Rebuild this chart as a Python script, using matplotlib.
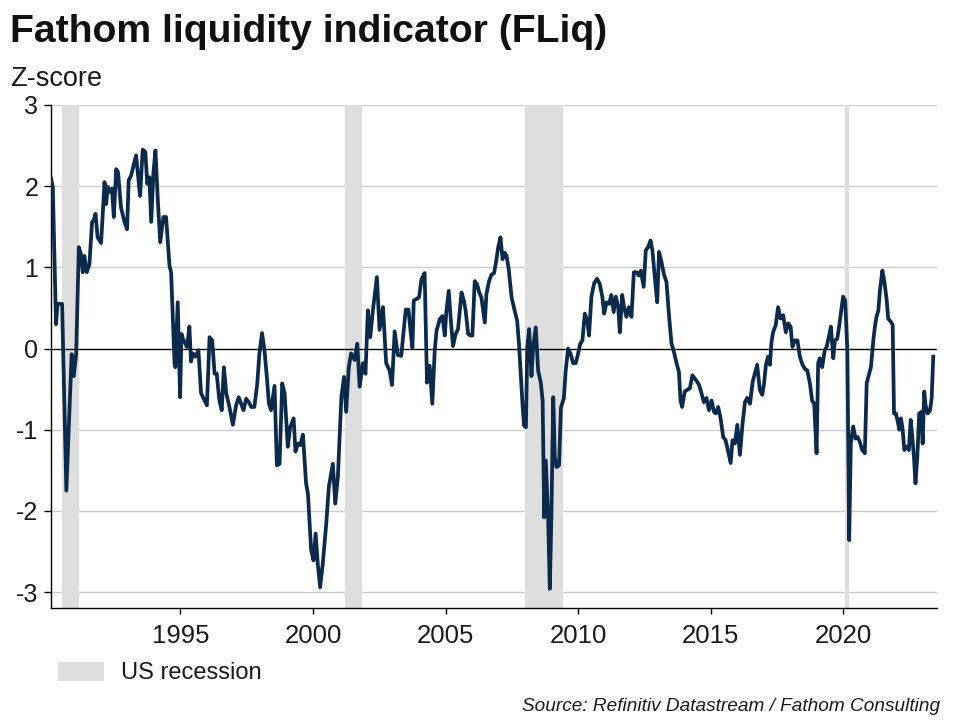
import matplotlib
matplotlib.use("Agg")
import matplotlib.pyplot as plt
from matplotlib.patches import Patch

# ---- data ----
years = [
    1990.12, 1990.19, 1990.31, 1990.37, 1990.54, 1990.70, 1990.90, 1990.98, 1991.07, 1991.17,
    1991.25, 1991.32, 1991.38, 1991.47, 1991.57, 1991.67, 1991.73, 1991.80, 1991.88, 1992.01,
    1992.14, 1992.20, 1992.26, 1992.35, 1992.42, 1992.49, 1992.58, 1992.65, 1992.76, 1992.89,
    1992.99, 1993.05, 1993.14, 1993.33, 1993.48, 1993.58, 1993.68, 1993.75, 1993.83, 1993.90,
    1993.98, 1994.06, 1994.15, 1994.24, 1994.36, 1994.46, 1994.59, 1994.65, 1994.78, 1994.81,
    1994.90, 1994.99, 1995.04, 1995.12, 1995.19, 1995.25, 1995.34, 1995.40, 1995.47, 1995.57,
    1995.68, 1995.78, 1995.91, 1996.00, 1996.10, 1996.20, 1996.29, 1996.37, 1996.47, 1996.56,
    1996.64, 1996.73, 1996.85, 1996.98, 1997.10, 1997.20, 1997.29, 1997.38, 1997.48, 1997.58,
    1997.67, 1997.79, 1997.90, 1997.98, 1998.08, 1998.17, 1998.26, 1998.34, 1998.42, 1998.55,
    1998.64, 1998.74, 1998.84, 1998.93, 1999.05, 1999.14, 1999.27, 1999.34, 1999.43, 1999.52,
    1999.62, 1999.74, 1999.81, 1999.93, 2000.02, 2000.10, 2000.18, 2000.27, 2000.37, 2000.50,
    2000.60, 2000.75, 2000.84, 2000.94, 2001.07, 2001.17, 2001.25, 2001.35, 2001.44, 2001.57,
    2001.67, 2001.76, 2001.88, 2001.98, 2002.07, 2002.16, 2002.26, 2002.41, 2002.51, 2002.64,
    2002.76, 2002.89, 2002.98, 2003.08, 2003.20, 2003.33, 2003.42, 2003.50, 2003.60, 2003.69,
    2003.75, 2003.80, 2003.90, 2004.00, 2004.09, 2004.21, 2004.30, 2004.40, 2004.50, 2004.59,
    2004.66, 2004.78, 2004.88, 2004.97, 2005.03, 2005.12, 2005.20, 2005.28, 2005.38, 2005.47,
    2005.56, 2005.60, 2005.69, 2005.76, 2005.85, 2005.94, 2006.01, 2006.10, 2006.19, 2006.27,
    2006.35, 2006.48, 2006.54, 2006.64, 2006.73, 2006.83, 2006.92, 2006.98, 2007.07, 2007.15,
    2007.23, 2007.30, 2007.38, 2007.49, 2007.61, 2007.70, 2007.77, 2007.82, 2007.90, 2007.96,
    2008.03, 2008.08, 2008.15, 2008.24, 2008.30, 2008.40, 2008.49, 2008.59, 2008.66, 2008.72,
    2008.78, 2008.87, 2008.93, 2008.99, 2009.06, 2009.12, 2009.18, 2009.28, 2009.35, 2009.46,
    2009.53, 2009.62, 2009.71, 2009.81, 2009.91, 2010.00, 2010.08, 2010.16, 2010.25, 2010.34,
    2010.41, 2010.50, 2010.60, 2010.71, 2010.81, 2010.91, 2010.98, 2011.07, 2011.17, 2011.25,
    2011.34, 2011.42, 2011.51, 2011.57, 2011.66, 2011.73, 2011.82, 2011.91, 2012.01, 2012.10,
    2012.20, 2012.29, 2012.36, 2012.47, 2012.55, 2012.64, 2012.73, 2012.80, 2012.89, 2012.98,
    2013.05, 2013.14, 2013.23, 2013.33, 2013.43, 2013.52, 2013.61, 2013.71, 2013.80, 2013.86,
    2013.92, 2014.02, 2014.11, 2014.21, 2014.31, 2014.40, 2014.49, 2014.56, 2014.65, 2014.74,
    2014.84, 2014.93, 2015.03, 2015.12, 2015.19, 2015.28, 2015.37, 2015.47, 2015.56, 2015.63,
    2015.75, 2015.82, 2015.91, 2016.00, 2016.10, 2016.20, 2016.29, 2016.37, 2016.48, 2016.58,
    2016.66, 2016.75, 2016.85, 2016.94, 2017.01, 2017.08, 2017.16, 2017.23, 2017.29, 2017.35,
    2017.45, 2017.54, 2017.63, 2017.73, 2017.83, 2017.92, 2018.01, 2018.08, 2018.17, 2018.27,
    2018.36, 2018.46, 2018.55, 2018.64, 2018.74, 2018.82, 2018.90, 2018.99, 2019.05, 2019.11,
    2019.20, 2019.30, 2019.37, 2019.45, 2019.53, 2019.62, 2019.68, 2019.77, 2019.84, 2019.93,
    2019.99, 2020.07, 2020.15, 2020.20, 2020.22, 2020.28, 2020.37, 2020.46, 2020.54, 2020.62,
    2020.71, 2020.81, 2020.88, 2020.94, 2021.04, 2021.13, 2021.19, 2021.25, 2021.32, 2021.38,
    2021.47, 2021.54, 2021.63, 2021.69, 2021.79, 2021.86, 2021.91, 2021.98, 2022.04, 2022.11,
    2022.17, 2022.23, 2022.30, 2022.38, 2022.47, 2022.54, 2022.60, 2022.66, 2022.72, 2022.79,
    2022.86, 2022.94, 2022.99, 2023.05, 2023.10, 2023.18, 2023.27, 2023.33, 2023.39,
]
fliq = [
    2.10, 1.99, 0.30, 0.55, 0.55, -1.75, -0.07, -0.34, -0.07, 1.25,
    1.16, 0.94, 1.14, 0.94, 1.04, 1.56, 1.58, 1.66, 1.37, 1.30,
    2.05, 1.78, 1.99, 1.93, 1.97, 1.62, 2.21, 2.17, 1.74, 1.56,
    1.47, 2.07, 2.13, 2.38, 1.88, 2.45, 2.42, 2.03, 2.11, 1.56,
    2.15, 2.44, 1.82, 1.31, 1.62, 1.62, 1.02, 0.94, -0.18, -0.23,
    0.57, -0.60, 0.18, 0.10, 0.06, 0.02, 0.27, -0.16, -0.06, -0.10,
    -0.02, -0.55, -0.64, -0.70, 0.14, 0.10, -0.31, -0.31, -0.64, -0.76,
    -0.23, -0.55, -0.72, -0.94, -0.70, -0.60, -0.68, -0.76, -0.62, -0.66,
    -0.72, -0.72, -0.43, -0.06, 0.19, -0.02, -0.35, -0.68, -0.76, -0.46,
    -1.44, -1.42, -0.43, -0.55, -1.21, -0.97, -0.86, -1.27, -1.17, -1.19,
    -1.06, -1.66, -1.79, -2.48, -2.61, -2.28, -2.65, -2.94, -2.65, -2.16,
    -1.70, -1.42, -1.91, -1.58, -0.60, -0.35, -0.78, -0.23, -0.06, -0.14,
    0.06, -0.47, -0.18, -0.31, 0.47, 0.14, 0.47, 0.88, 0.23, 0.51,
    -0.18, -0.27, -0.45, 0.21, -0.08, -0.09, 0.22, 0.48, 0.48, 0.18,
    0.01, 0.59, 0.61, 0.63, 0.85, 0.93, -0.42, -0.21, -0.68, -0.03,
    0.22, 0.36, 0.40, 0.16, 0.46, 0.71, 0.34, 0.03, 0.18, 0.24,
    0.55, 0.69, 0.59, 0.46, 0.18, 0.16, 0.16, 0.83, 0.79, 0.69,
    0.63, 0.32, 0.67, 0.83, 0.91, 0.93, 1.10, 1.24, 1.37, 1.10,
    1.18, 1.14, 0.98, 0.63, 0.46, 0.34, 0.05, -0.23, -0.68, -0.95,
    -0.97, 0.01, 0.24, -0.34, 0.01, 0.26, -0.27, -0.42, -0.64, -2.08,
    -1.38, -2.12, -2.96, -2.08, -0.60, -1.34, -1.46, -1.44, -0.73, -0.61,
    -0.27, 0.00, -0.06, -0.18, -0.18, -0.06, 0.06, 0.10, 0.43, 0.35,
    0.16, 0.64, 0.80, 0.86, 0.80, 0.64, 0.43, 0.57, 0.55, 0.66,
    0.45, 0.64, 0.51, 0.20, 0.66, 0.51, 0.39, 0.51, 0.39, 0.94,
    0.94, 0.90, 0.96, 0.76, 1.21, 1.25, 1.33, 1.21, 0.88, 0.57,
    1.19, 1.07, 0.92, 0.82, 0.39, 0.06, -0.04, -0.18, -0.29, -0.64,
    -0.72, -0.53, -0.51, -0.49, -0.33, -0.37, -0.41, -0.45, -0.55, -0.66,
    -0.61, -0.76, -0.64, -0.78, -0.80, -0.72, -0.86, -1.09, -1.13, -1.23,
    -1.41, -1.13, -1.17, -0.94, -1.31, -0.92, -0.66, -0.61, -0.68, -0.41,
    -0.31, -0.20, -0.51, -0.57, -0.43, -0.20, -0.10, -0.20, 0.08, 0.20,
    0.29, 0.51, 0.37, 0.41, 0.20, 0.31, 0.27, 0.02, 0.10, 0.10,
    -0.10, -0.20, -0.25, -0.27, -0.43, -0.64, -0.68, -1.29, -0.18, -0.12,
    -0.23, -0.02, 0.02, 0.14, 0.27, -0.12, 0.10, 0.12, 0.27, 0.49,
    0.64, 0.59, -0.02, -1.66, -2.36, -1.17, -0.96, -1.11, -1.09, -1.15,
    -1.25, -1.29, -0.43, -0.35, -0.23, 0.10, 0.27, 0.39, 0.47, 0.72,
    0.96, 0.84, 0.61, 0.37, 0.33, 0.29, -0.80, -0.80, -0.88, -1.00,
    -0.86, -0.98, -1.25, -1.21, -1.25, -0.88, -1.09, -1.33, -1.66, -1.33,
    -0.80, -0.78, -1.17, -0.53, -0.70, -0.80, -0.76, -0.61, -0.10,
]
recession_start = [1990.53, 2001.20, 2007.98, 2020.08]
recession_end = [1991.17, 2001.83, 2009.42, 2020.20]
yticks = [-3, -2, -1, 0, 1, 2, 3]
xticks = [1995, 2000, 2005, 2010, 2015, 2020]

# ---- style ----
LINE = "#0c2a4b"
GRID = "#cccccc"
BAND = "#dedede"
TXT = "#1a1a1a"
SANS = ["Liberation Sans", "DejaVu Sans"]

fig = plt.figure(figsize=(9.6, 7.2), dpi=100)
ax = fig.add_axes([50.7 / 960, 1 - 608.3 / 720, (936.7 - 50.7) / 960, (608.3 - 105) / 720])

for s, e in zip(recession_start, recession_end):
    ax.axvspan(s, e, color=BAND, lw=0, zorder=1)

for t in yticks:
    if t != 0:
        ax.axhline(t, color=GRID, lw=1.0, zorder=0.5)
ax.axhline(0, color="black", lw=1.0, zorder=2)

ax.plot(years, fliq, color=LINE, lw=2.7, solid_joinstyle="round", zorder=3)

ax.set_xlim(1990.11, 2023.52)
ax.set_ylim(-3.2, 3.0)
ax.set_yticks(yticks)
ax.set_yticklabels([str(t) for t in yticks])
ax.set_xticks(xticks)
ax.set_xticklabels([str(t) for t in xticks])

for side in ["top", "right"]:
    ax.spines[side].set_visible(False)
for side in ["left", "bottom"]:
    ax.spines[side].set_color("black")
    ax.spines[side].set_linewidth(1.0)

ax.tick_params(axis="y", direction="out", length=5, width=1, pad=4, colors="black")
ax.tick_params(axis="x", direction="out", length=4, width=1, pad=7, colors="black")
for lab in ax.get_yticklabels():
    lab.set_fontfamily(SANS)
    lab.set_fontsize(18)
    lab.set_color(TXT)
for lab in ax.get_xticklabels():
    lab.set_fontfamily(SANS)
    lab.set_fontsize(18.5)
    lab.set_color(TXT)

fig.text(10 / 960, 1 - 42 / 720, "Fathom liquidity indicator (FLiq)", fontsize=28.2,
         fontweight="bold", family=SANS, color="#111111", ha="left", va="baseline")
fig.text(10 / 960, 1 - 86 / 720, "Z-score", fontsize=19.5, family=SANS, color=TXT,
         ha="left", va="baseline")
fig.text(940 / 960, 1 - 711 / 720, "Source: Refinitiv Datastream / Fathom Consulting",
         fontsize=13.7, family=SANS, style="italic", color=TXT, ha="right", va="baseline")

leg = fig.legend(handles=[Patch(facecolor=BAND, edgecolor="none", label="US recession")],
                 loc="center left", bbox_to_anchor=(58 / 960, 1 - 673 / 720),
                 frameon=False, borderpad=0, borderaxespad=0, handlelength=1.95,
                 handleheight=0.9, handletextpad=0.7,
                 prop={"family": SANS, "size": 17})
for t in leg.get_texts():
    t.set_color(TXT)

fig.savefig("out.png", dpi=100, facecolor="white")
